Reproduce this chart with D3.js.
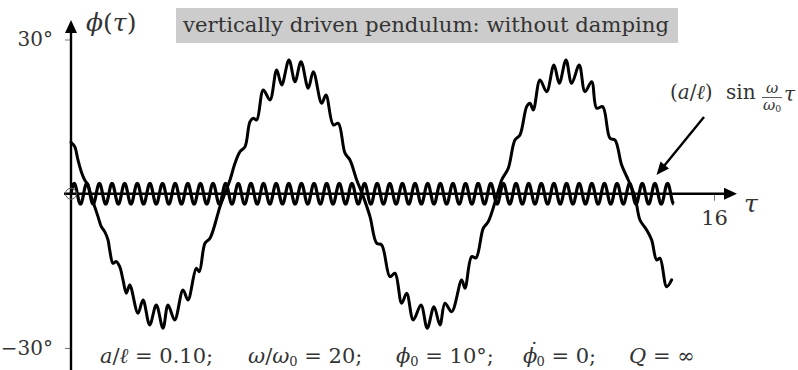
<!DOCTYPE html>
<html>
<head>
<meta charset="utf-8">
<script src="https://cdn.jsdelivr.net/npm/d3@7"></script>
<style>
  body { margin: 0; background: #fff; }
  svg { display: block; }
  svg text { font-family: "DejaVu Serif", "Liberation Serif", serif; }
</style>
</head>
<body>
<svg id="chart" width="798" height="370"></svg>
<script>
// Pendulum angle φ(τ) in degrees, traced at the ripple extrema and kinks
const tauSamples = [
  0.000, 0.092, 0.174, 0.256, 0.341, 0.423, 0.505, 0.590, 0.672, 0.754,
  0.838, 0.921, 0.963, 1.045, 1.127, 1.212, 1.294, 1.376, 1.461, 1.667,
  1.792, 1.958, 2.122, 2.289, 2.414, 2.580, 2.787, 2.911, 3.118, 3.192,
  3.334, 3.459, 3.707, 3.832, 3.956, 4.081, 4.205, 4.330, 4.454, 4.536,
  4.621, 4.785, 4.951, 5.118, 5.242, 5.424, 5.574, 5.723, 5.904, 6.029,
  6.238, 6.345, 6.527, 6.651, 6.818, 6.942, 7.109, 7.273, 7.440, 7.606,
  7.731, 7.937, 8.062, 8.228, 8.353, 8.517, 8.709, 8.865, 9.032, 9.181,
  9.306, 9.473, 9.721, 9.804, 9.970, 10.077, 10.259, 10.383, 10.592, 10.717,
  10.881, 11.047, 11.172, 11.339, 11.421, 11.503, 11.670, 11.836, 12.018, 12.150,
  12.317, 12.458, 12.647, 12.789, 12.956, 13.080, 13.230, 13.411, 13.536, 13.702,
  13.867, 14.033, 14.158, 14.324, 14.449, 14.573, 14.655, 14.822, 14.946
];
const phiSamples = [
  10.00, 9.16, 6.57, 4.30, 2.68, 1.71, -0.56, -2.51, -4.45, -6.40,
  -7.37, -8.98, -10.93, -13.52, -13.20, -14.18, -16.76, -19.35, -17.74, -23.24,
  -20.65, -25.52, -21.63, -26.16, -21.63, -24.54, -18.71, -20.65, -14.49, -15.15,
  -9.63, -8.65, -2.51, 0.10, 2.68, 5.93, 8.19, 9.16, 14.02, 14.68,
  14.35, 20.19, 18.24, 24.08, 21.16, 26.02, 21.80, 25.69, 20.52, 23.75,
  17.60, 19.21, 13.38, 13.71, 7.88, 6.57, 2.68, -0.56, -4.45, -9.63,
  -9.96, -16.12, -15.46, -21.29, -19.35, -24.54, -21.63, -26.16, -21.96, -25.52,
  -21.29, -22.93, -16.76, -18.38, -12.23, -12.49, -6.71, -5.43, -0.56, 2.68,
  4.96, 10.46, 11.43, 16.94, 17.60, 16.30, 22.13, 19.86, 25.05, 21.49,
  26.02, 21.49, 25.05, 19.86, 21.80, 16.63, 16.94, 10.79, 10.46, 5.60,
  2.68, -0.56, -5.10, -7.04, -8.98, -12.87, -12.54, -18.07, -16.76
];

// Pivot drive (a/ℓ) sin(ω/ω0 τ)
const driveRatio = 20;       // ω/ω0
const driveAmplitude = 2.0;  // drawn amplitude, degrees
const driveEnd = 15;         // last τ of the drive trace

const yTickValues = [-30, 30];
const xTickValues = [16];

const ink = "#333";

const svg = d3.select("#chart");

const x = d3.scaleLinear().domain([0, 16]).range([71, 714]);
const y = d3.scaleLinear().domain([-30, 30]).range([348, 39.5]);

// Title box
const titleG = svg.append("g");
titleG.append("rect")
  .attr("x", 176).attr("y", 8).attr("width", 502).attr("height", 35)
  .attr("fill", "#cccccc");
titleG.append("text")
  .attr("x", 183).attr("y", 32)
  .attr("font-size", 20).attr("fill", ink)
  .attr("textLength", 486).attr("lengthAdjust", "spacingAndGlyphs")
  .text("vertically driven pendulum: without damping");

// Curves
const phiData = tauSamples.map((t, i) => [t, phiSamples[i]]);
const driveData = d3.range(0, driveEnd + 1e-9, 0.005)
  .map(t => [t, driveAmplitude * Math.sin(driveRatio * t)]);

svg.append("path")
  .datum(driveData)
  .attr("d", d3.line().x(d => x(d[0])).y(d => y(d[1])))
  .attr("fill", "none").attr("stroke", "#000").attr("stroke-width", 3.2)
  .attr("stroke-linejoin", "round");

svg.append("path")
  .datum(phiData)
  .attr("d", d3.line().x(d => x(d[0])).y(d => y(d[1])).curve(d3.curveCatmullRom.alpha(0.5)))
  .attr("fill", "none").attr("stroke", "#000").attr("stroke-width", 3)
  .attr("stroke-linejoin", "round").attr("stroke-linecap", "round");

// Axes (ticks via d3, main lines with arrowheads drawn below)
const degFmt = d => (d < 0 ? "\u2212" : "") + Math.abs(d) + "\u00B0";

const yAxisG = svg.append("g")
  .attr("transform", `translate(${x(0)},0)`)
  .call(d3.axisLeft(y).tickValues(yTickValues).tickFormat(degFmt).tickSize(6).tickPadding(12));
yAxisG.attr("font-family", null);
yAxisG.select(".domain").remove();
yAxisG.selectAll(".tick line").attr("stroke", "#777").attr("stroke-width", 1);
yAxisG.selectAll(".tick text").attr("font-size", 20).attr("fill", ink);

const xAxisG = svg.append("g")
  .attr("transform", `translate(0,${y(0)})`)
  .call(d3.axisBottom(x).tickValues(xTickValues).tickSize(7).tickPadding(9));
xAxisG.attr("font-family", null);
xAxisG.select(".domain").remove();
xAxisG.selectAll(".tick line").attr("stroke", "#777").attr("stroke-width", 1);
xAxisG.selectAll(".tick text").attr("font-size", 21).attr("fill", ink);

const x0 = x(0), y0 = y(0);
// vertical axis
svg.append("line")
  .attr("x1", x0).attr("x2", x0).attr("y1", 372).attr("y2", 30)
  .attr("stroke", "#000").attr("stroke-width", 2.4);
svg.append("path")
  .attr("d", `M${x0},20 L${x0 - 6},33 L${x0 + 6},33 Z`)
  .attr("fill", "#000");
// horizontal axis
svg.append("line")
  .attr("x1", 64).attr("x2", 728).attr("y1", y0).attr("y2", y0)
  .attr("stroke", "#000").attr("stroke-width", 2.4);
svg.append("path")
  .attr("d", `M737,${y0} L724,${y0 - 6} L724,${y0 + 6} Z`)
  .attr("fill", "#000");
// origin marker
svg.append("circle")
  .attr("cx", x0).attr("cy", y0).attr("r", 5.5)
  .attr("fill", "none").attr("stroke", "#555").attr("stroke-width", 1);

// Math-style text built from roman/italic/subscript runs
function mathText(g, xPos, yPos, size, parts) {
  const t = g.append("text")
    .attr("x", xPos).attr("y", yPos)
    .attr("font-size", size).attr("fill", ink);
  parts.forEach(p => {
    const s = t.append("tspan").text(p.t);
    if (p.i) s.attr("font-style", "italic");
    if (p.sub) s.attr("font-size", size * 0.62);
    if (p.x != null) s.attr("x", p.x);
    if (p.dy != null) s.attr("dy", p.dy);
    else if (p.sub) s.attr("dy", size * 0.15);
    else if (p.up) s.attr("dy", -size * 0.15);
  });
  return t;
}

mathText(svg, 86, 31, 25, [
  { t: "\u03D5", i: true }, { t: "(" }, { t: "\u03C4", i: true }, { t: ")" }
]);
mathText(svg, 744, 212, 25, [{ t: "\u03C4", i: true }]);

// Drive annotation
mathText(svg, 670, 99, 20, [
  { t: "(" }, { t: "a", i: true }, { t: "/" }, { t: "\u2113", i: true }, { t: ")" }
]);
mathText(svg, 726, 99, 20, [{ t: "sin" }]);
svg.append("text")
  .attr("x", 772).attr("y", 93).attr("text-anchor", "middle")
  .attr("font-size", 15).attr("font-style", "italic").attr("fill", ink)
  .text("\u03C9");
svg.append("line")
  .attr("x1", 762).attr("x2", 782).attr("y1", 97.5).attr("y2", 97.5)
  .attr("stroke", ink).attr("stroke-width", 0.8);
mathText(svg, 763, 110, 15, [{ t: "\u03C9", i: true }, { t: "0", sub: true }]);
mathText(svg, 784, 101, 20, [{ t: "\u03C4", i: true }]);

svg.append("line")
  .attr("x1", 704).attr("y1", 117).attr("x2", 664).attr("y2", 166)
  .attr("stroke", "#000").attr("stroke-width", 2.4);
{
  const tipX = 656.5, tipY = 175;
  const ang = Math.atan2(175 - 117, 656.5 - 704);
  const L = 13, W = 5.5;
  const bx = tipX - L * Math.cos(ang), by = tipY - L * Math.sin(ang);
  const nx = -Math.sin(ang), ny = Math.cos(ang);
  svg.append("path")
    .attr("d", `M${tipX},${tipY} L${bx + W * nx},${by + W * ny} L${bx - W * nx},${by - W * ny} Z`)
    .attr("fill", "#000");
}

// Parameter line
const pg = svg.append("g");
const base = 363;
mathText(pg, 100, base, 21, [
  { t: "a", i: true }, { t: "/" }, { t: "\u2113", i: true }, { t: " = 0.10;" }
]);
mathText(pg, 248, base, 21, [
  { t: "\u03C9", i: true }, { t: "/" }, { t: "\u03C9", i: true }, { t: "0", sub: true },
  { t: " = 20;", up: true }
]);
mathText(pg, 396, base, 21, [
  { t: "\u03D5", i: true }, { t: "0", sub: true }, { t: " = 10\u00B0;", up: true }
]);
// ϕ with a dot accent (time derivative), then its subscript
mathText(pg, 523, base, 21, [
  { t: "\u03D5", i: true },
  { t: "\u02D9", x: 529, dy: -6 },
  { t: "0", sub: true, x: 536.5, dy: 6 + 21 * 0.15 },
  { t: " = 0;", up: true }
]);
mathText(pg, 629, base, 21, [
  { t: "Q", i: true }, { t: " = \u221E" }
]);
</script>
</body>
</html>
